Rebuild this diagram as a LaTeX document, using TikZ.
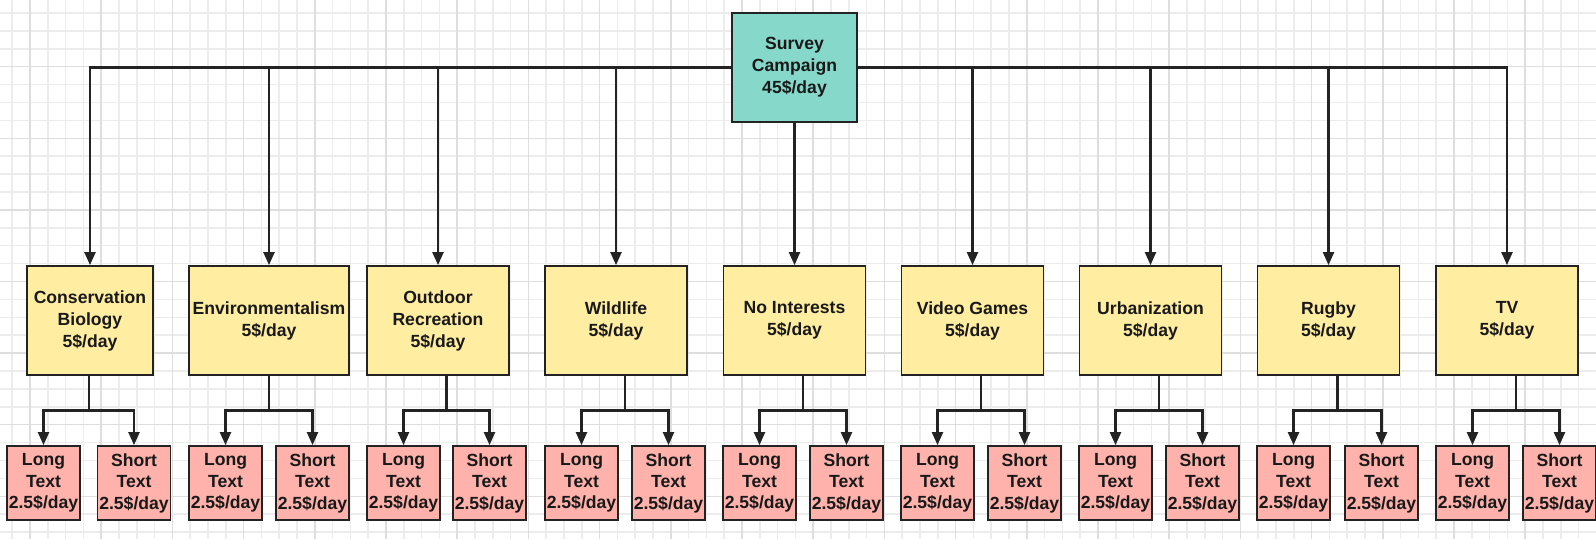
\documentclass[tikz,border=0pt]{standalone}
\usepackage{fontspec}
\setmainfont{Liberation Sans}
\usetikzlibrary{arrows.meta}
\definecolor{tealC}{RGB}{134,216,202}
\definecolor{yelC}{RGB}{255,237,161}
\definecolor{pinkC}{RGB}{255,178,172}
\definecolor{lineC}{RGB}{35,35,35}
\definecolor{textC}{RGB}{25,25,25}
\definecolor{gridMinor}{RGB}{236,236,236}
\definecolor{gridMajor}{RGB}{222,222,222}
\tikzset{
  box/.style={draw=lineC, line width=1.8pt, inner sep=0pt, align=center,
    font=\bfseries\fontsize{17.6}{22}\selectfont, text=textC},
  topbox/.style={box, fill=tealC, minimum width=125pt, minimum height=109pt},
  catbox/.style={box, fill=yelC, minimum width=142pt, minimum height=109pt},
  leafbox/.style={box, fill=pinkC, minimum width=73pt, minimum height=74pt,
    font=\bfseries\fontsize{17.6}{21.5}\selectfont},
  conn/.style={draw=lineC, line width=2.2pt},
  arr/.style={conn, -{Triangle[length=13pt,width=11pt]}},
  gminor/.style={draw=gridMinor, line width=1.5pt},
  gmajor/.style={draw=gridMajor, line width=1.5pt},
}
\begin{document}
\begin{tikzpicture}[x=1pt,y=-1pt]
\fill[white] (0,0) rectangle (1596,539);
\useasboundingbox (0,0) rectangle (1596,539);
% grid
\foreach \k in {0,...,89} \draw[gminor] ({12.2+17.8*\k},0) -- ++(0,539);
\foreach \k in {0,...,30} \draw[gminor] (0,{13+17.9*\k}) -- ++(1596,0);
\foreach \k in {0,...,22} \draw[gmajor] ({30+71.2*\k},0) -- ++(0,539);
\foreach \k in {0,...,7} \draw[gmajor] (0,{66.7+71.6*\k}) -- ++(1596,0);

% top node
\node[topbox] (top) at (794.5,67.5) {Survey\\Campaign\\45\$/day};

% categories
\node[catbox, minimum width=126pt] (c1) at (90,320.5) {Conservation\\Biology\\5\$/day};
\node[catbox, minimum width=160pt] (c2) at (269,320.5) {Environmentalism\\5\$/day};
\node[catbox] (c3) at (438,320.5) {Outdoor\\Recreation\\5\$/day};
\node[catbox] (c4) at (616,320.5) {Wildlife\\5\$/day};
\node[catbox] (c5) at (794.5,320.5) {No Interests\\5\$/day};
\node[catbox] (c6) at (972.5,320.5) {Video Games\\5\$/day};
\node[catbox] (c7) at (1150.5,320.5) {Urbanization\\5\$/day};
\node[catbox] (c8) at (1328.5,320.5) {Rugby\\5\$/day};
\node[catbox] (c9) at (1507,320.5) {TV\\5\$/day};

% leaves
\foreach \i/\lx/\sx in {1/43.5/134, 2/225.5/312.5, 3/403.5/489.5, 4/581.5/668.5,
    5/759.5/846.5, 6/937.5/1024.5, 7/1115.5/1202.5, 8/1293.5/1381.5, 9/1472.5/1559.5} {
  \node[leafbox] (l\i) at (\lx,483) {Long\\Text\\2.5\$/day};
  \node[leafbox] (s\i) at (\sx,483) {Short\\Text\\2.5\$/day};
  \coordinate (b\i) at ({(\lx+\sx)/2},410.5);
}

% top connectors
\foreach \c in {c1,c2,c3,c4} \draw[arr] (top.west) -| (\c.north);
\foreach \c in {c6,c7,c8,c9} \draw[arr] (top.east) -| (\c.north);
\draw[arr] (top.south) -- (c5.north);

% category to leaves
\foreach \i in {1,...,9} {
  \draw[conn] (c\i.south -| b\i) -- (b\i);
  \draw[arr] (b\i) -| (l\i.north);
  \draw[arr] (b\i) -| (s\i.north);
}
\end{tikzpicture}
\end{document}
